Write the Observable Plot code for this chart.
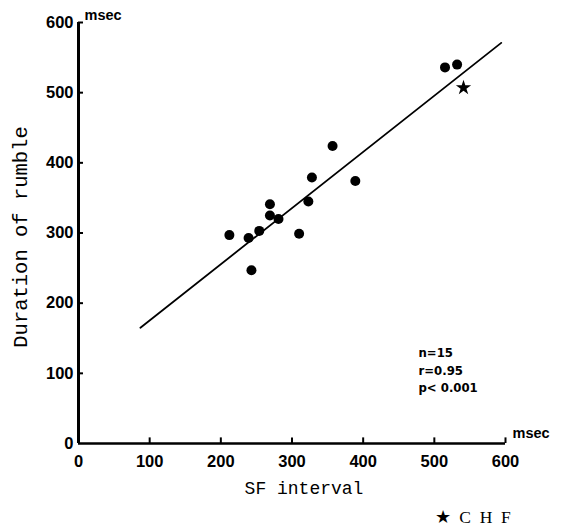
<!DOCTYPE html>
<html>
<head>
<meta charset="utf-8">
<script src="https://cdn.jsdelivr.net/npm/d3@7"></script>
<script src="https://cdn.jsdelivr.net/npm/@observablehq/plot@0.6"></script>
<style>
body { margin: 0; background: #fff; }
svg { background: #fff; }
</style>
</head>
<body>
<div id="chart"></div>
<script>
// Data
const sfInterval = [212, 239, 254, 269, 269, 281, 243, 310, 323, 328, 357, 389, 515, 532];
const rumbleDuration = [297, 293, 303, 341, 325, 320, 247, 299, 345, 379, 424, 374, 536, 540];
const chfInterval = [541];
const chfDuration = [507];
const fitX = [87, 594];
const fitY = [165, 571];
const xTicks = [0, 100, 200, 300, 400, 500, 600];
const yTicks = [0, 100, 200, 300, 400, 500, 600];
const xTitle = "SF interval";
const yTitle = "Duration of rumble";
const unitLabel = "msec";
const statsText = "n=15\nr=0.95\np< 0.001";
const legendText = "★\u2002C\u2002H\u2002F";

const points = sfInterval.map((x, i) => ({x, y: rumbleDuration[i]}));
const chf = chfInterval.map((x, i) => ({x, y: chfDuration[i]}));
const fit = fitX.map((x, i) => ({x, y: fitY[i]}));

const tickFont = {fontFamily: "Liberation Sans, Arial, sans-serif", fontWeight: "bold", fontSize: 16.5, fill: "#000"};
const monoFont = {fontFamily: "Liberation Mono, Courier New, monospace", fill: "#000"};

const chart = Plot.plot({
  width: 566,
  height: 526,
  marginLeft: 78,
  marginRight: 61,
  marginTop: 22,
  marginBottom: 83,
  x: {domain: [0, 600], axis: null},
  y: {domain: [0, 600], axis: null},
  style: {background: "#fff", color: "#000"},
  marks: [
    // axis lines
    Plot.ruleX([0], {y1: 0, y2: 600, stroke: "#000", strokeWidth: 3}),
    Plot.ruleY([0], {x1: 0, x2: 600, stroke: "#000", strokeWidth: 2.5}),
    // inward ticks
    Plot.ruleY(yTicks.filter(d => d > 0), {x1: 0, x2: 7, stroke: "#000", strokeWidth: 2}),
    Plot.ruleX(xTicks.filter(d => d > 0), {y1: 0, y2: 8, stroke: "#000", strokeWidth: 2}),
    // tick labels
    Plot.axisY(yTicks, {anchor: "left", label: null, tickSize: 0, tickPadding: 5, ...tickFont}),
    Plot.axisX(xTicks, {anchor: "bottom", label: null, tickSize: 0, tickPadding: 12, ...tickFont}),
    // unit labels
    Plot.text([unitLabel], {frameAnchor: "top-left", dx: 6, dy: -13, textAnchor: "start", ...tickFont, fontSize: 14.5}),
    Plot.text([unitLabel], {frameAnchor: "bottom-right", dx: 7, dy: -6, textAnchor: "start", ...tickFont, fontSize: 14.5}),
    // titles
    Plot.text([yTitle], {frameAnchor: "left", textAnchor: "middle", rotate: -90, dx: -58, dy: 4, fontSize: 20.5, ...monoFont}),
    Plot.text([xTitle], {frameAnchor: "bottom", textAnchor: "middle", dx: 12, dy: 50, fontSize: 18, ...monoFont}),
    // regression line
    Plot.line(fit, {x: "x", y: "y", stroke: "#000", strokeWidth: 1.8}),
    // data
    Plot.dot(points, {x: "x", y: "y", r: 5, fill: "#000", stroke: "none"}),
    Plot.dot(chf, {x: "x", y: "y", symbol: "star", r: 4.8, fill: "#000", stroke: "none"}),
    // stats
    Plot.text([statsText], {frameAnchor: "bottom-right", dx: -87, dy: -99, textAnchor: "start", lineAnchor: "top", lineHeight: 1.35,
      fontFamily: "Liberation Sans Narrow, DejaVu Sans Condensed, sans-serif", fontWeight: "bold", fontSize: 13, fill: "#000"}),
    // legend
    Plot.text([legendText], {frameAnchor: "bottom-right", dx: -71, dy: 79, textAnchor: "start",
      fontFamily: "Liberation Serif, Times New Roman, serif", fontSize: 17.5, fill: "#000"})
  ]
});
document.getElementById("chart").appendChild(chart);
</script>
</body>
</html>
